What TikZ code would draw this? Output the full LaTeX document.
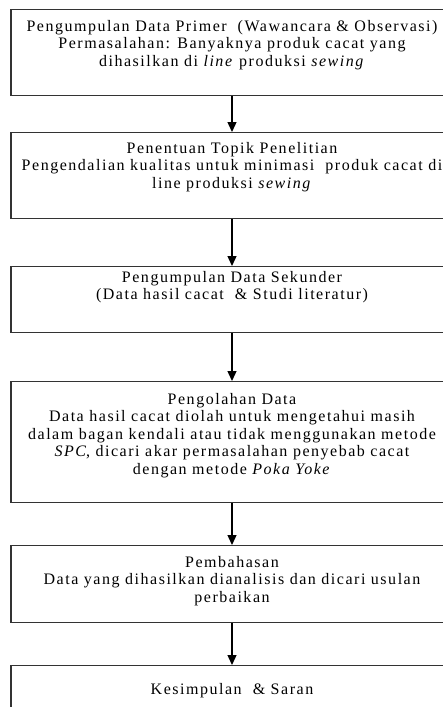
\documentclass[tikz,border=0pt]{standalone}
\usepackage{fontspec}
\setmainfont{Liberation Serif}[LetterSpace=9.5]
\usepackage{tikz}
\usetikzlibrary{arrows,arrows.meta}
\usetikzlibrary{positioning}
\tikzset{>={Triangle[width=9pt,length=10pt]},
  box/.style={draw=black!80,line width=1.3pt,minimum width=442pt,
    inner sep=0pt,anchor=north},
  txt/.style={align=center,inner sep=0pt,anchor=north,
    font=\fontsize{16pt}{17.5pt}\selectfont},
  flow/.style={->,line width=1.3pt}}

\begin{document}
\begin{tikzpicture}[x=1pt,y=-1pt]

  \useasboundingbox (0,0) rectangle (443,707);
  \clip (0,0) rectangle (443,707);

  % kotak-kotak
  \node [box,minimum height=86pt] (b1) at (232,9) {};
  \node [box,minimum height=86pt] (b2) at (232,132) {};
  \node [box,minimum height=66pt] (b3) at (232,266) {};
  \node [box,minimum height=121pt] (b4) at (232,381) {};
  \node [box,minimum height=77pt] (b5) at (232,545) {};
  \node [box,minimum height=95pt] (b6) at (232,665) {};

  % teks
  \node [txt] (t1) at (232,20) {Pengumpulan Data Primer\ \ (Wawancara \& Observasi)\\
    Permasalahan: Banyaknya produk cacat yang\\
    dihasilkan di \textit{line} produksi \textit{sewing}};
  \node [txt] (t2) at (232,142) {Penentuan Topik Penelitian\\
    Pengendalian kualitas untuk minimasi\ \ produk cacat di\\
    line produksi \textit{sewing}};
  \node [txt] (t3) at (232,271) {Pengumpulan Data Sekunder\\
    (Data hasil cacat\ \ \& Studi literatur)};
  \node [txt] (t4) at (232,393) {Pengolahan Data\\
    Data hasil cacat diolah untuk mengetahui masih\\
    dalam bagan kendali atau tidak menggunakan metode\\
    \textit{SPC}, dicari akar permasalahan penyebab cacat\\
    dengan metode \textit{Poka Yoke}};
  \node [txt] (t5) at (232,556) {Pembahasan\\
    Data yang dihasilkan dianalisis dan dicari usulan\\
    perbaikan};
  \node [txt] (t6) at (232,683) {Kesimpulan\ \ \& Saran};

  % panah
  \draw [flow] (b1.south) -- (b2.north);
  \draw [flow] (b2.south) -- (b3.north);
  \draw [flow] (b3.south) -- (b4.north);
  \draw [flow] (b4.south) -- (b5.north);
  \draw [flow] (b5.south) -- (b6.north);

\end{tikzpicture}
\end{document}
